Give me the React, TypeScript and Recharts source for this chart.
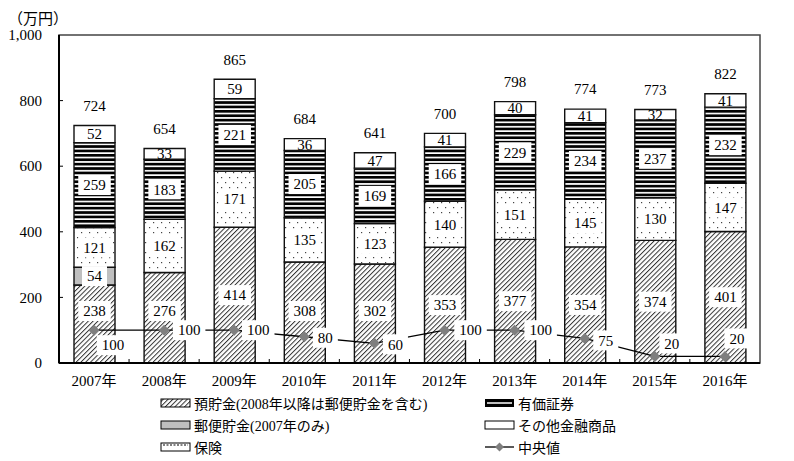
import React from "react";
import { ComposedChart, Bar, Line, XAxis, YAxis, LabelList, ReferenceArea } from "recharts";

const years = ["2007年", "2008年", "2009年", "2010年", "2011年", "2012年", "2013年", "2014年", "2015年", "2016年"];
const savings = [238, 276, 414, 308, 302, 353, 377, 354, 374, 401];
const postal = [54, null, null, null, null, null, null, null, null, null];
const insurance = [121, 162, 171, 135, 123, 140, 151, 145, 130, 147];
const securities = [259, 183, 221, 205, 169, 166, 229, 234, 237, 232];
const others = [52, 33, 59, 36, 47, 41, 40, 41, 32, 41];
const totals = [724, 654, 865, 684, 641, 700, 798, 774, 773, 822];
const median = [100, 100, 100, 80, 60, 100, 100, 75, 20, 20];
const yTicks = [0, 200, 400, 600, 800, 1000];

const data = years.map((year, i) => ({
  year,
  savings: savings[i],
  postal: postal[i],
  insurance: insurance[i],
  securities: securities[i],
  others: others[i],
  median: median[i],
}));

const FONT = '"Liberation Serif", "Noto Sans CJK JP", serif';

// where the median labels sit relative to their point
const medianOffsets = [
  [19, 15], [25, 0], [24, 0], [21, 1], [21, 1],
  [26, 0], [26, 0], [21, 2], [17, -13], [12, -18],
];

const box = (cx: number, cy: number, text: string, fill = "#fff") => {
  const w = text.length * 7.5 + 10;
  return (
    <g>
      <rect x={cx - w / 2} y={cy - 10} width={w} height={20} fill={fill} />
      <text x={cx} y={cy} dy="0.35em" textAnchor="middle" fontSize={15} fontFamily={FONT} fill="#000">
        {text}
      </text>
    </g>
  );
};

const segLabel = (lift: boolean) => (props: any) => {
  const vb = props.viewBox || props;
  const { x, width } = vb;
  const top = Math.min(vb.y, vb.y + vb.height);
  const h = Math.abs(vb.height);
  if (!props.value) return null;
  let cy = top + h / 2;
  if (lift) cy = Math.min(cy, top + h - 52);
  return box(x + width / 2, cy, String(props.value));
};

const OtherLabel = (props: any) => {
  const vb = props.viewBox || props;
  const { x, width } = vb;
  const top = Math.min(vb.y, vb.y + vb.height);
  const h = Math.abs(vb.height);
  return (
    <g>
      <text x={x + width / 2} y={top + h / 2} dy="0.35em" textAnchor="middle" fontSize={15} fontFamily={FONT}>
        {props.value}
      </text>
      <text x={x + width / 2} y={top - 20} dy="0.35em" textAnchor="middle" fontSize={15} fontFamily={FONT}>
        {totals[props.index]}
      </text>
    </g>
  );
};

const MedianLabel = (props: any) => {
  const { x, y, index, value } = props;
  const [dx, dy] = medianOffsets[index] || [20, 0];
  return box(x + dx, y + dy, String(value));
};

const Diamond = (props: any) => {
  const { cx, cy } = props;
  if (cx == null) return null;
  const s = 5.5;
  return (
    <polygon
      points={`${cx},${cy - s} ${cx + s},${cy} ${cx},${cy + s} ${cx - s},${cy}`}
      fill="#7f7f7f"
    />
  );
};

const YTick = (props: any) => {
  const { x, y, payload } = props;
  return (
    <g>
      <text x={x} y={y} dy="0.35em" textAnchor="end" fontSize={15} fontFamily={FONT} fill="#000">
        {payload.value.toLocaleString("en-US")}
      </text>
      {payload.value > 0 && payload.value < 1000 && (
        <line x1={x + 17} x2={x + 21} y1={y} y2={y} stroke="#000" />
      )}
    </g>
  );
};

const XTick = (props: any) => {
  const { x, y, payload, index } = props;
  return (
    <g>
      <text x={x} y={y} dy="0.71em" textAnchor="middle" fontSize={15} fontFamily={FONT} fill="#000">
        {payload.value}
      </text>
      {index < years.length - 1 && (
        <line x1={x + 35} x2={x + 35} y1={y - 12} y2={y - 16} stroke="#000" />
      )}
    </g>
  );
};

const Patterns = () => (
  <defs>
    <pattern id="hatch" width="3.4" height="3.4" patternUnits="userSpaceOnUse" patternTransform="rotate(45)">
      <rect width="3.4" height="3.4" fill="#fff" />
      <line x1="0.5" y1="0" x2="0.5" y2="3.4" stroke="#333" strokeWidth="1" />
    </pattern>
    <pattern id="dots" width="8" height="10" patternUnits="userSpaceOnUse">
      <rect width="8" height="10" fill="#fff" />
      <rect x="1" y="2" width="1.2" height="1.2" fill="#444" />
      <rect x="5" y="7" width="1.2" height="1.2" fill="#444" />
    </pattern>
    <pattern id="stripes" width="4.4" height="4.4" patternUnits="userSpaceOnUse">
      <rect width="4.4" height="4.4" fill="#fff" />
      <rect y="0" width="4.4" height="2.7" fill="#000" />
    </pattern>
  </defs>
);

const legendRow = (icon: React.ReactNode, label: string, left: number, top: number) => (
  <div style={{ position: "absolute", left, top, display: "flex", alignItems: "center", height: 18 }}>
    <svg width={32} height={12} style={{ marginRight: 2 }}>{icon}</svg>
    <span style={{ fontSize: 14, fontFamily: FONT, whiteSpace: "nowrap" }}>{label}</span>
  </div>
);

export default function App() {
  return (
    <div style={{ position: "absolute", left: 0, top: 0, width: 794, height: 461, background: "#fff" }}>
      <div style={{ position: "absolute", left: 8, top: 7, fontSize: 15, fontFamily: FONT }}>（万円）</div>
      <ComposedChart
        width={794}
        height={461}
        data={data}
        margin={{ top: 35, right: 34, bottom: 68, left: 0 }}
        style={{ fontFamily: FONT }}
      >
        <Patterns />
        <ReferenceArea y1={0} y2={1000} fill="none" fillOpacity={0} stroke="#444" strokeWidth={1.5} />
        <XAxis
          dataKey="year"
          height={30}
          tickSize={0}
          tickMargin={12}
          tick={<XTick />}
          axisLine={{ stroke: "#000", strokeWidth: 2 }}
        />
        <YAxis
          width={59}
          domain={[0, 1000]}
          ticks={yTicks}
          tickSize={0}
          tickMargin={17}
          tick={<YTick />}
          axisLine={{ stroke: "#000", strokeWidth: 2 }}
        />
        <Bar dataKey="savings" stackId="a" barSize={41} fill="url(#hatch)" stroke="#111" strokeWidth={1.4} isAnimationActive={false}>
          <LabelList dataKey="savings" content={segLabel(true)} />
        </Bar>
        <Bar dataKey="postal" stackId="a" barSize={41} fill="#bfbfbf" stroke="#111" strokeWidth={1.4} isAnimationActive={false}>
          <LabelList dataKey="postal" content={segLabel(false)} />
        </Bar>
        <Bar dataKey="insurance" stackId="a" barSize={41} fill="url(#dots)" stroke="#111" strokeWidth={1.4} isAnimationActive={false}>
          <LabelList dataKey="insurance" content={segLabel(false)} />
        </Bar>
        <Bar dataKey="securities" stackId="a" barSize={41} fill="url(#stripes)" stroke="#111" strokeWidth={1.4} isAnimationActive={false}>
          <LabelList dataKey="securities" content={segLabel(false)} />
        </Bar>
        <Bar dataKey="others" stackId="a" barSize={41} fill="#fff" stroke="#111" strokeWidth={1.4} isAnimationActive={false}>
          <LabelList dataKey="others" content={<OtherLabel />} />
        </Bar>
        <Line
          dataKey="median"
          stroke="#000"
          strokeWidth={1.3}
          dot={<Diamond />}
          activeDot={false}
          isAnimationActive={false}
        >
          <LabelList dataKey="median" content={<MedianLabel />} />
        </Line>
      </ComposedChart>
      {legendRow(<rect x={1} y={2} width={29} height={8} fill="url(#hatch)" stroke="#000" />, "預貯金(2008年以降は郵便貯金を含む)", 160, 394)}
      {legendRow(<rect x={1} y={2} width={29} height={8} fill="#bfbfbf" stroke="#000" />, "郵便貯金(2007年のみ)", 160, 416)}
      {legendRow(
        <g>
          <rect x={1} y={2} width={29} height={8} fill="#fff" stroke="#000" />
          <line x1={3} x2={28} y1={4} y2={4} stroke="#000" strokeDasharray="2 1.5" />
        </g>,
        "保険",
        160,
        438
      )}
      {legendRow(
        <g>
          <rect x={1} y={2} width={29} height={8} fill="#000" />
          <line x1={3} x2={28} y1={6} y2={6} stroke="#fff" strokeWidth={1.5} />
        </g>,
        "有価証券",
        484,
        394
      )}
      {legendRow(<rect x={1} y={2} width={29} height={8} fill="#fff" stroke="#000" />, "その他金融商品", 484, 416)}
      {legendRow(
        <g>
          <line x1={1} x2={30} y1={6} y2={6} stroke="#000" strokeWidth={1.3} />
          <polygon points="15.5,1.5 20,6 15.5,10.5 11,6" fill="#7f7f7f" />
        </g>,
        "中央値",
        484,
        438
      )}
    </div>
  );
}
